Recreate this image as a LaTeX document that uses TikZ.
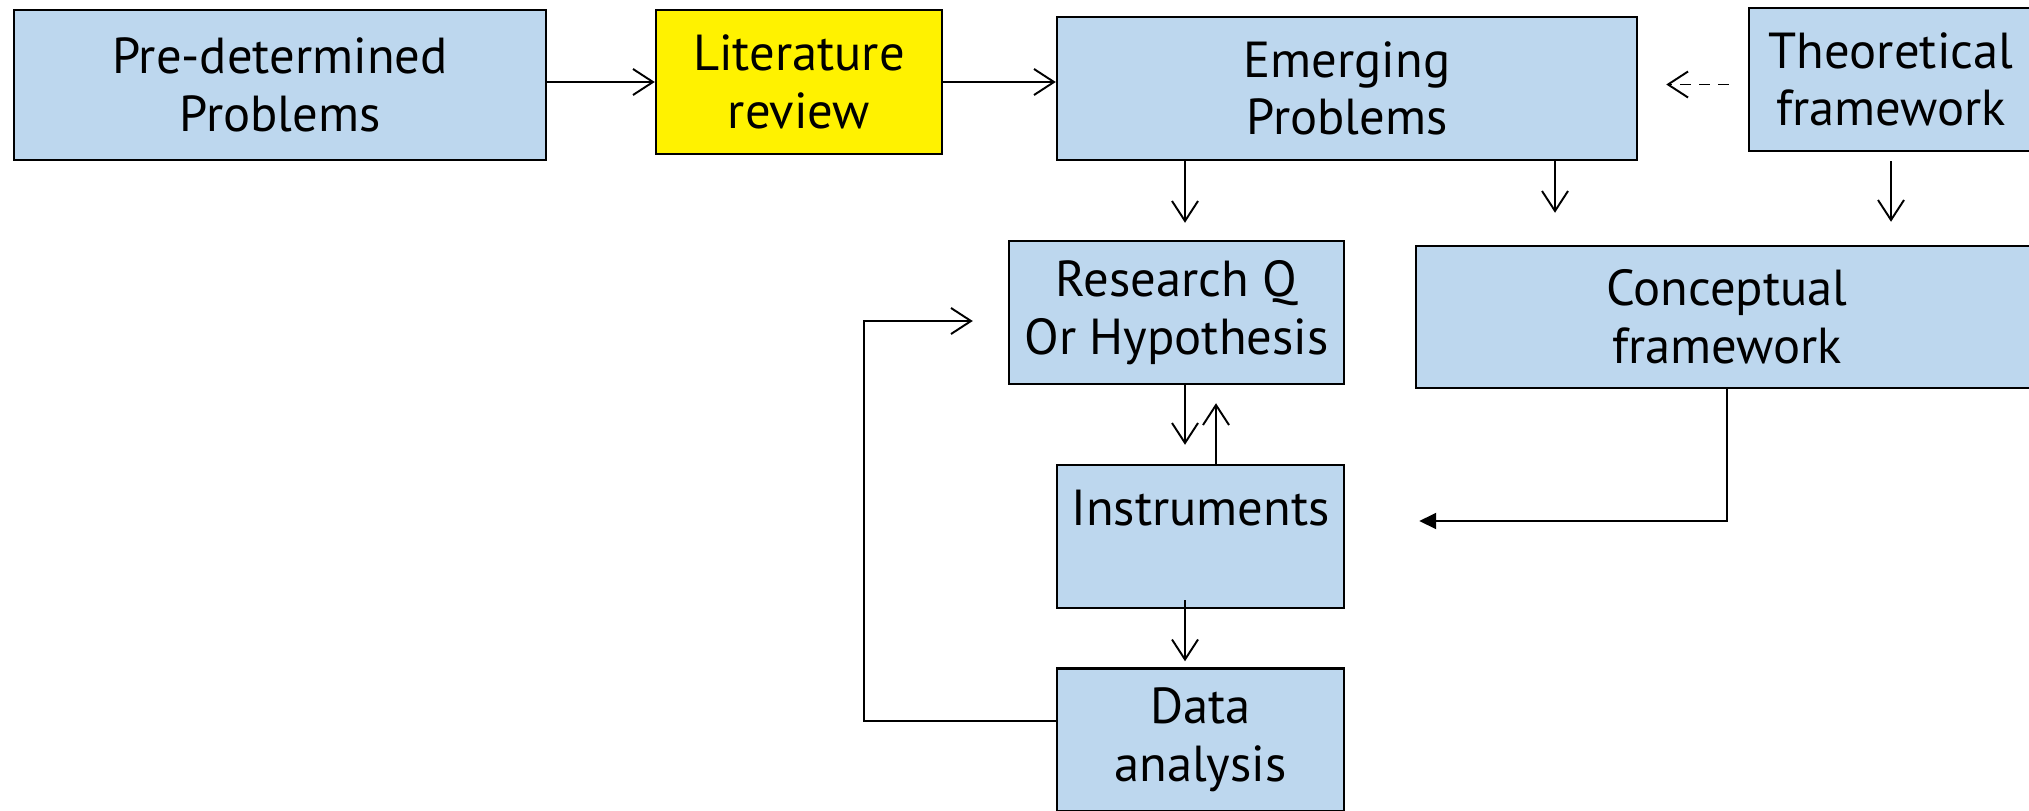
\documentclass[tikz,border=0pt]{standalone}
\usepackage{fontspec}
\setmainfont{PT Sans}
\usetikzlibrary{arrows.meta}
\definecolor{boxblue}{RGB}{189,215,238}
\tikzset{
	box/.style={draw, line width=0.7pt, fill=boxblue, align=center, inner sep=0pt,
		font=\fontsize{14.4}{16.4}\selectfont},
	arr/.style={-{Straight Barb[length=2mm,width=2.6mm]}, line width=0.55pt},
}
\begin{document}
\begin{tikzpicture}
	\def\W{20.29}
	\def\H{8.10}

	%画布范围
	\useasboundingbox (0,0) rectangle (\W,\H);
	\clip (0,0) rectangle (\W,\H);

	%方框
	\node [box, minimum width=5.32cm, minimum height=1.50cm] (pre) at (2.80,7.25) {Pre-determined\\Problems};
	\node [box, fill=yellow, minimum width=2.86cm, minimum height=1.44cm] (lit) at (7.99,7.28) {Literature\\review};
	\node [box, minimum width=5.80cm, minimum height=1.43cm] (emerg) at (13.47,7.215) {Emerging\\Problems};
	\node [box, minimum width=2.84cm, minimum height=1.43cm] (theo) at (18.91,7.305) {Theoretical\\framework};
	\node [box, minimum width=3.35cm, minimum height=1.43cm] (rq) at (11.765,4.975) {Research Q\\Or Hypothesis};
	\node [box, minimum width=6.22cm, minimum height=1.42cm] (concept) at (17.27,4.93) {Conceptual\\framework};
	\node [box, minimum width=2.87cm, minimum height=1.43cm] (instr) at (12.005,2.735) {Instruments\\~};
	\node [box, minimum width=2.87cm, minimum height=1.43cm] (data) at (12.005,0.70) {Data\\analysis};

	%箭头所在的列
	\coordinate (xa) at (11.85,0);
	\coordinate (xb) at (12.16,0);
	\coordinate (xc) at (15.55,0);
	\coordinate (xl) at (8.64,4.89);

	%横向箭头
	\draw [arr] (pre.east |- lit.west) -- (lit.west);
	\draw [arr] (lit.east) -- (lit.east -| emerg.west);
	\draw [arr, dash pattern=on 1.1mm off 0.8mm, shorten <=1.9mm, shorten >=2.8mm]
		([yshift=-0.5mm]theo.west) -- ([yshift=-0.5mm]theo.west -| emerg.east);

	%纵向箭头
	\draw [arr, shorten >=1.7mm] (xa |- emerg.south) -- (xa |- rq.north);
	\draw [arr, shorten >=3.2mm] (xc |- emerg.south) -- (xc |- concept.north);
	\draw [arr, shorten <=0.9mm, shorten >=2.3mm] (theo.south) -- (theo.south |- concept.north);
	\draw [arr, shorten >=1.9mm] (xa |- rq.south) -- (xa |- instr.north);
	\draw [arr, shorten >=1.8mm] (xb |- instr.north) -- (xb |- rq.south);
	\draw [arr, shorten <=-0.9mm, shorten >=0.6mm] (xa |- instr.south) -- (xa |- data.north);

	%折线
	\draw [-{Triangle[length=1.7mm,width=1.6mm]}, line width=0.55pt, shorten >=7.4mm]
		(concept.south) |- ([yshift=1.55mm]instr.east);
	\draw [arr, shorten >=3.5mm] ([yshift=1.9mm]data.west) -| (xl) -- (xl -| rq.west);

\end{tikzpicture}
\end{document}
